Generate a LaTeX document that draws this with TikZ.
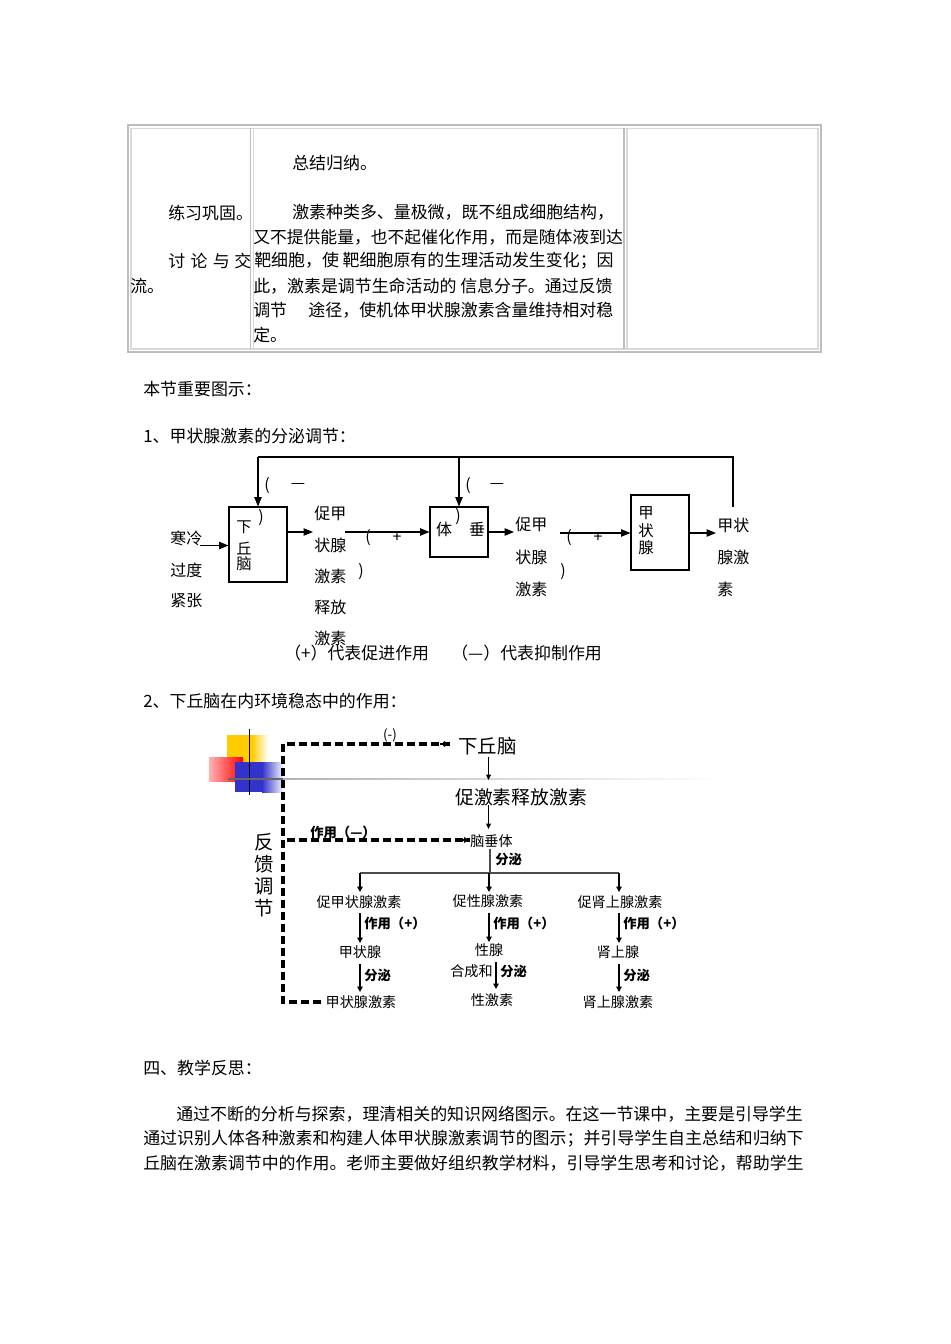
\documentclass[tikz,border=0pt]{standalone}
\usepackage{fontspec}
\setmainfont{Noto Sans CJK SC}
\usetikzlibrary{arrows.meta}
\newcommand{\myfs}[1]{\fontsize{#1}{#1}\selectfont}
\definecolor{yyellow}{HTML}{FFCC00}
\definecolor{bblue}{HTML}{3333CC}
\definecolor{tabgray}{HTML}{BDBDBD}
\begin{document}
\begin{tikzpicture}[x=0.75pt,y=-0.75pt,
  txt/.style={inner sep=0pt, anchor=west, font=\myfs{12.7}},
  lbl/.style={inner sep=0pt, font=\myfs{12}},
  boxtxt/.style={inner sep=0pt, font=\myfs{11.5}},
  pbox/.style={draw, line width=0.8pt, inner sep=0pt, minimum width=43.5pt},
  arr/.style={-{Triangle[length=7pt,width=5.5pt]}, line width=0.8pt},
  dsh/.style={dash pattern=on 6pt off 3pt, line width=2.3pt},
  dtip/.style={-{Triangle[length=4.5pt,width=4pt]}},
  tarr/.style={-{Triangle[length=4pt,width=4pt]}, line width=1.5pt},
  narr/.style={-{Triangle[length=4pt,width=3.5pt]}, line width=0.9pt},
  small/.style={inner sep=0pt, font=\myfs{10.6}},
  bsm/.style={inner sep=0pt, anchor=west, font=\myfs{10}\bfseries}]
\useasboundingbox[fill=white] (0,0) rectangle (950,1344);

% ---------------- table ----------------
\draw[tabgray, line width=1.2pt] (128,125) rectangle (821,352);
\draw[gray!30, line width=1pt] (131,128.5) rectangle (818,349);
\draw[tabgray, line width=1pt] (250.5,128) -- (250.5,349);
\draw[gray!30, line width=1pt] (253.5,128) -- (253.5,349);
\draw[tabgray, line width=1pt] (624,128) -- (624,349);
\draw[gray!30, line width=1pt] (627,128) -- (627,349);

\node[txt] (s1) at (292,163) {总结归纳。};
\node[txt] (c1) at (168,213) {练习巩固。};
\node[txt] (p1) at (292,212) {激素种类多、量极微，既不组成细胞结构，};
\node[txt, font=\myfs{12.6}] (p2) at (253,237) {又不提供能量，也不起催化作用，而是随体液到达};
\node[txt] (c2) at (168,261) {讨\hspace{4pt}论\hspace{4pt}与\hspace{3.5pt}交};
\node[txt] (p3) at (254,261) {靶细胞，使 靶细胞原有的生理活动发生变化；因};
\node[txt] (c3) at (130,286) {流。};
\node[txt] (p4) at (253,286) {此，激素是调节生命活动的 信息分子。通过反馈};
\node[txt] (p5) at (253,310) {调节\hspace{16pt}途径，使机体甲状腺激素含量维持相对稳};
\node[txt] (p6) at (253,335) {定。};

% ---------------- headings ----------------
\node[txt] (h1) at (143,389) {本节重要图示：};
\node[txt] (h2) at (143,436) {1、甲状腺激素的分泌调节：};
\node[txt] (h3) at (143,701) {2、下丘脑在内环境稳态中的作用：};
\node[txt] (h4) at (143,1068) {四、教学反思：};
\node[txt] (r1) at (176,1114) {通过不断的分析与探索，理清相关的知识网络图示。在这一节课中，主要是引导学生};
\node[txt] (r2) at (143,1139) {通过识别人体各种激素和构建人体甲状腺激素调节的图示；并引导学生自主总结和归纳下};
\node[txt] (r3) at (143,1163) {丘脑在激素调节中的作用。老师主要做好组织教学材料，引导学生思考和讨论，帮助学生};

% ---------------- diagram 1 ----------------
\node[pbox, minimum height=56.25pt] (hyp) at (258,544.5) {};
\node[pbox, minimum height=37.5pt] (pit) at (459,532) {};
\node[pbox, minimum height=56.25pt] (thy1) at (660,532.5) {};

\node[boxtxt] (hypa) at (244,527) {下};
\node[boxtxt] (hypb) at (244,548) {丘};
\node[boxtxt] (hypc) at (244,564) {脑};
\node[lbl] (pita) at (444,529) {体};
\node[lbl] (pitb) at (458,517) {)};
\node[lbl] (pitc) at (477,529) {垂};
\node[boxtxt] (thya) at (646,513) {甲};
\node[boxtxt] (thyb) at (646,531) {状};
\node[boxtxt] (thyc) at (646,548) {腺};

\node[lbl, anchor=west] (cold1) at (170,538) {寒冷};
\node[lbl, anchor=west] (cold2) at (170,570) {过度};
\node[lbl, anchor=west] (cold3) at (170,601) {紧张};

\node[lbl, anchor=west] (trh1) at (314,513) {促甲};
\node[lbl, anchor=west] (trh2) at (314,545) {状腺};
\node[lbl, anchor=west] (trh3) at (314,576) {激素};
\node[lbl, anchor=west] (trh4) at (314,607) {释放};
\node[lbl, anchor=west] (trh5) at (314,638) {激素};

\node[lbl, anchor=west] (tsh1) at (515,524) {促甲};
\node[lbl, anchor=west] (tsh2) at (515,557) {状腺};
\node[lbl, anchor=west] (tsh3) at (515,589) {激素};

\node[lbl, anchor=west] (th1) at (717,525) {甲状};
\node[lbl, anchor=west] (th2) at (717,557) {腺激};
\node[lbl, anchor=west] (th3) at (717,589) {素};

% sign labels
\node[lbl] (m1a) at (267,486) {(};
\node[lbl] (m1b) at (298,486) {—};
\node[lbl] (m1c) at (261,518) {)};
\node[lbl] (m2a) at (468,486) {(};
\node[lbl] (m2b) at (497,486) {—};
\node[lbl] (p1a) at (368,538) {(};
\node[lbl] (p1b) at (397,538) {+};
\node[lbl] (p1c) at (361,572) {)};
\node[lbl] (p2a) at (569,538) {(};
\node[lbl] (p2b) at (598,538) {+};
\node[lbl] (p2c) at (563,572) {)};

\node[lbl, anchor=west, font=\myfs{12.7}] (leg1) at (284,653) {（+）代表促进作用};
\node[lbl, anchor=west, font=\myfs{12.7}] (leg2) at (451,653) {（—）代表抑制作用};

% connectors
\coordinate (top1) at (258,457);
\coordinate (top2) at (459,457);
\coordinate (top3) at (733,457);
\coordinate (fbR) at (733,507);
\draw[line width=0.8pt] (fbR) -- (top3) -- (top1);
\draw[arr] (top1) -- (hyp.north);
\draw[arr] (top2) -- (pit.north);

\coordinate (coldE) at (200,545.5);
\coordinate (y532) at (0,532);
\coordinate (y533) at (0,533);
\draw[arr] (coldE) -- (hyp.west |- coldE);
\coordinate (trhT) at (313,532);
\draw[arr] (hyp.east |- y532) -- (trhT);
\coordinate (trhS) at (345,532);
\draw[arr] (trhS) -- (pit.west |- y532);
\coordinate (tshT) at (514,532);
\draw[arr] (pit.east |- y532) -- (tshT);
\coordinate (tshS) at (560,533);
\draw[arr] (tshS) -- (thy1.west |- y533);
\coordinate (thT) at (716,533);
\draw[arr] (thy1.east |- y533) -- (thT);

% ---------------- diagram 2 ----------------
% decoration squares
\fill[yyellow] (227,735) rectangle (252,768);
\shade[left color=yyellow, right color=white] (252,735) rectangle (268,768);
\shade[left color=red!30, right color=red] (209,757) rectangle (243,781);
\fill[bblue] (235,762) rectangle (262,792);
\shade[left color=bblue, right color=white] (262,762) rectangle (284,792);
\draw[line width=1.3pt] (249.5,729) -- (249.5,795);
\fill[gray!80!black] (228,778.2) rectangle (283,779.8);
\shade[left color=gray!60, right color=white] (283,778.2) rectangle (722,779.8);

\node[inner sep=0pt, anchor=west, font=\myfs{14.6}] (hyp2) at (458,746) {下丘脑};
\node[inner sep=0pt, anchor=west, font=\myfs{14.1}] (rel) at (455,797) {促激素释放激素};
\node[small, anchor=west] (pit2) at (470,841) {脑垂体};
\node[inner sep=0pt, font=\myfs{10}] (minus) at (390,735) {(-)};
\node[bsm] (act0) at (310,832) {作用（—）};
\node[bsm] (sec0) at (495,859) {分泌};

\node[small] (tsh) at (359,902) {促甲状腺激素};
\node[small] (gth) at (488,901) {促性腺激素};
\node[small] (acth) at (620,902) {促肾上腺激素};
\node[bsm] (actA) at (364,923) {作用（+）};
\node[bsm] (actB) at (493,923) {作用（+）};
\node[bsm] (actC) at (623,923) {作用（+）};
\node[small] (thy) at (360,952) {甲状腺};
\node[small] (gon) at (489,950) {性腺};
\node[small] (adr) at (618,952) {肾上腺};
\node[bsm] (secA) at (364,975) {分泌};
\node[small, anchor=east] (syn) at (493,971) {合成和};
\node[bsm] (secB) at (500,971) {分泌};
\node[bsm] (secC) at (623,975) {分泌};
\node[small] (thh) at (361,1002) {甲状腺激素};
\node[small] (sexh) at (492,1000) {性激素};
\node[small] (adh) at (618,1002) {肾上腺激素};

\node[inner sep=0pt, align=center, font=\fontsize{14.5}{16.5}\selectfont] (fb) at (264,875) {反\\馈\\调\\节};

% dashed feedback
\coordinate (dB) at (321,1002);
\coordinate (dC) at (283,1002);
\coordinate (dT) at (283,744);
\coordinate (dM) at (283,840);
\coordinate (hypL) at (450,744);
\coordinate (pitL) at (470,840);
\draw[dsh] (dB) -- (dC) -- (dT) -- (hypL);
\draw[dtip, line width=1.4pt] (440,744) -- (hypL);
\draw[dsh] (287,840) -- (pitL);
\draw[dtip, line width=1.4pt] (460,840) -- (pitL);

% main chain
\coordinate (a1s) at (488.5,757);
\coordinate (a1e) at (488.5,780);
\draw[narr] (a1s) -- (a1e);
\coordinate (a2s) at (488.5,805);
\coordinate (a2e) at (488.5,829);
\draw[narr] (a2s) -- (a2e);
\coordinate (brT) at (490,849);
\coordinate (brM) at (490,873);
\coordinate (brL) at (360,873);
\coordinate (brR) at (619,873);
\draw[line width=0.9pt, gray!60!black] (brT) -- (brM);
\draw[line width=0.9pt, gray!60!black] (brL) -- (brR);
\draw[tarr] (brL) -- (360,892);
\draw[tarr] (489,873) -- (489,892);
\draw[tarr] (brR) -- (619,892);

\draw[tarr] (360,913) -- (360,943);
\draw[tarr] (489,913) -- (489,942);
\draw[tarr] (619,913) -- (619,943);
\draw[tarr] (360,964) -- (360,992);
\draw[tarr] (496,962) -- (496,989);
\draw[tarr] (619,964) -- (619,992);
\end{tikzpicture}
\end{document}
